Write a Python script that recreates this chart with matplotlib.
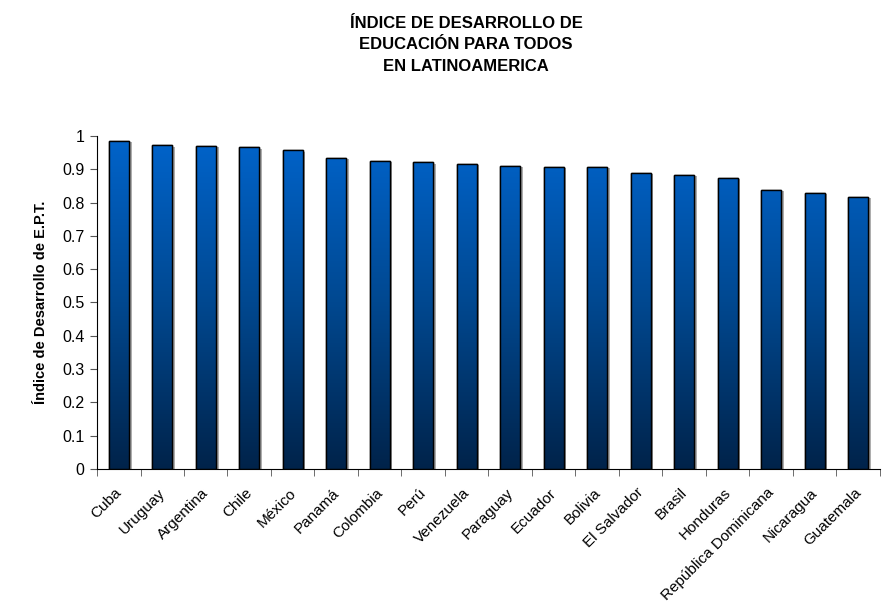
import numpy as np
import matplotlib.pyplot as plt
import matplotlib.patheffects as pe
import matplotlib.transforms as mtransforms
from matplotlib.colors import LinearSegmentedColormap

plt.rcParams['font.family'] = ['Liberation Sans', 'DejaVu Sans']

paises = ["Cuba", "Uruguay", "Argentina", "Chile", "México", "Panamá", "Colombia",
          "Perú", "Venezuela", "Paraguay", "Ecuador", "Bolivia", "El Salvador",
          "Brasil", "Honduras", "República Dominicana", "Nicaragua", "Guatemala"]
indice = [0.986, 0.972, 0.971, 0.966, 0.957, 0.935, 0.925, 0.921, 0.916,
          0.911, 0.908, 0.907, 0.890, 0.884, 0.874, 0.839, 0.830, 0.817]

fig = plt.figure(figsize=(8.86, 6.06), dpi=100)
ax = fig.add_axes([0.1095, 0.2261, 0.8835, 0.5495])

x = np.arange(len(paises))
bars = ax.bar(x, indice, width=0.46, color="#0050a8", edgecolor="black", linewidth=1.0,
              path_effects=[pe.SimplePatchShadow(offset=(2, -1), shadow_rgbFace="#999999", alpha=0.8),
                            pe.Normal()], zorder=2)

# vertical gradient inside each bar: dark navy at bottom, bright blue at top
cmap = LinearSegmentedColormap.from_list("azul", ["#00234a", "#004890", "#0064cc"])
grad = np.linspace(0, 1, 256).reshape(-1, 1)
for b in bars:
    im = ax.imshow(grad, cmap=cmap, aspect="auto", origin="lower",
                   extent=[b.get_x(), b.get_x() + b.get_width(), 0, 1], zorder=2.5)
    im.set_clip_path(b)
    ax.add_patch(plt.Rectangle((b.get_x(), 0), b.get_width(), b.get_height(),
                               fill=False, edgecolor="black", linewidth=1.0, zorder=3))

ax.set_xlim(-0.5, len(paises) - 0.5)
ax.set_ylim(0, 1)
ax.set_yticks(np.arange(0, 1.01, 0.1))
ax.set_yticklabels(["0", "0.1", "0.2", "0.3", "0.4", "0.5", "0.6", "0.7", "0.8", "0.9", "1"])
ax.set_xticks(x)
ax.set_xticklabels(paises, rotation=45, ha="right", rotation_mode="anchor")
ax.set_xticks(np.arange(-0.5, len(paises)), minor=True)
ax.tick_params(axis="x", which="major", length=0, labelsize=11, pad=12)
ax.tick_params(axis="x", which="minor", length=5, direction="out", color="#555555")
ax.tick_params(axis="y", length=5, direction="out", labelsize=11.5, color="#555555", pad=4)

# nudge the rotated labels a little to the left
shift = mtransforms.ScaledTranslation(-4 / 100, 0, fig.dpi_scale_trans)
for lbl in ax.get_xticklabels():
    lbl.set_transform(lbl.get_transform() + shift)

for s in ["top", "right"]:
    ax.spines[s].set_visible(False)

ax.set_ylabel("Índice de Desarrollo de E.P.T.", fontsize=10.5, fontweight="bold", labelpad=10)
fig.text(0.526, 0.926, "ÍNDICE DE DESARROLLO DE\nEDUCACIÓN PARA TODOS\nEN LATINOAMERICA",
         ha="center", va="center", fontsize=12, fontweight="bold", linespacing=1.55)

fig.savefig("out.png", dpi=100)
